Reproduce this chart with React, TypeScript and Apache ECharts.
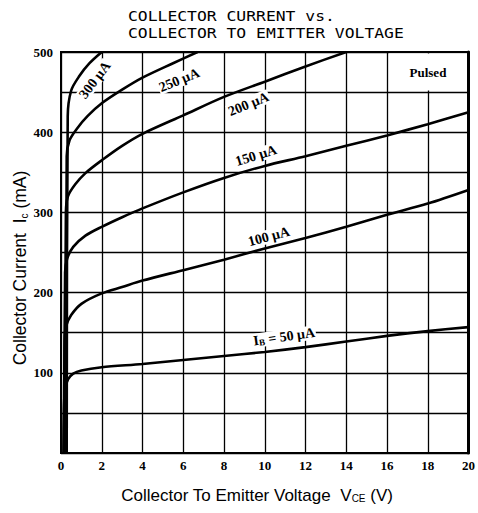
import { useEffect, useRef } from "react";
import * as echarts from "echarts";

// Collector current (mA) vs collector-emitter voltage (V), one list per base current
const ib50: [number, number][] = [
  [0.12, 0], [0.15, 60], [0.2, 80], [0.35, 92], [0.6, 99], [1, 103], [2, 107], [4, 111],
  [6, 116], [8, 121], [10, 126], [12, 132], [14, 139], [16, 146], [18, 152], [20, 157],
];
const ib100: [number, number][] = [
  [0.14, 0], [0.18, 140], [0.25, 158], [0.5, 172], [1, 186], [2, 199], [3, 207], [4, 215],
  [6, 228], [8, 241], [10, 255], [12, 268], [14, 282], [16, 297], [18, 311], [20, 328],
];
const ib150: [number, number][] = [
  [0.16, 0], [0.2, 225], [0.3, 242], [0.6, 257], [1.2, 271], [2, 282], [3, 294], [4, 305],
  [6, 325], [8, 343], [10, 358], [12, 370], [14, 383], [16, 396], [18, 410], [20, 425],
];
const ib200: [number, number][] = [
  [0.2, 0], [0.24, 300], [0.34, 320], [0.7, 335], [1.2, 349], [2, 365], [3, 383], [4, 398],
  [6, 421], [8, 444], [10, 463], [12, 482], [14, 500],
];
const ib250: [number, number][] = [
  [0.24, 0], [0.28, 370], [0.42, 390], [0.8, 405], [1.3, 420], [2, 436], [3, 453], [4, 468],
  [5.5, 486], [6.7, 500],
];
const ib300: [number, number][] = [
  [0.28, 0], [0.33, 420], [0.5, 452], [0.9, 470], [1.4, 486], [2, 500],
];

const curveLabels = ["I{sub|B} = 50 μA", "100 μA", "150 μA", "200 μA", "250 μA", "300 μA"];
const curveData = [ib50, ib100, ib150, ib200, ib250, ib300];

// label anchor (data space) and rotation for each curve label
const labelSpots: { at: [number, number]; rot: number }[] = [
  { at: [10.95, 145], rot: 8 },
  { at: [10.2, 270], rot: 15 },
  { at: [9.57, 371], rot: 17 },
  { at: [9.2, 435], rot: 22 },
  { at: [5.8, 465], rot: 22 },
  { at: [1.66, 465], rot: 53 },
];

const xMin = 0, xMax = 20, xStep = 2;
const yMin = 0, yMax = 500, yStep = 50;

const SERIF = '"Liberation Serif", "DejaVu Serif", serif';
const SANS = '"Liberation Sans", Arial, sans-serif';
const MONO = '"DejaVu Sans Mono", monospace';

export default function App() {
  const ref = useRef<HTMLDivElement>(null);
  useEffect(() => {
    if (!ref.current) return;
    const chart = echarts.init(ref.current, undefined, { renderer: "svg" });
    const series: any[] = curveData.map((d, i) => ({
      type: "line",
      data: d,
      symbol: "none",
      showSymbol: false,
      smooth: 0.3,
      clip: true,
      silent: true,
      lineStyle: { color: "#000", width: 2.6 },
      z: 3,
      markPoint: {
        silent: true,
        symbol: "circle",
        symbolSize: 0,
        data: [
          {
            coord: labelSpots[i].at,
            label: {
              show: true,
              position: "inside",
              formatter: curveLabels[i],
              rotate: labelSpots[i].rot,
              fontFamily: SERIF,
              fontWeight: "bold",
              fontSize: 14,
              color: "#000",
              backgroundColor: "#fff",
              padding: [0, 1],
              rich: {
                sub: {
                  fontFamily: SERIF,
                  fontWeight: "bold",
                  fontSize: 9,
                  color: "#000",
                  verticalAlign: "bottom",
                },
              },
            },
          },
        ],
      },
    }));
    series[0].markArea = {
      silent: true,
      itemStyle: { color: "#fff" },
      label: {
        show: true,
        position: "inside",
        formatter: "Pulsed",
        fontFamily: SERIF,
        fontWeight: "bold",
        fontSize: 13,
        color: "#000",
      },
      data: [[{ coord: [16.1, 452] }, { coord: [19.92, 498] }]],
    };

    chart.setOption({
      animation: false,
      backgroundColor: "#fff",
      grid: {
        left: 61,
        right: 8,
        top: 52,
        bottom: 60,
        show: true,
        borderColor: "#000",
        borderWidth: 2,
        backgroundColor: "#fff",
      },
      xAxis: {
        type: "value",
        min: xMin,
        max: xMax,
        interval: xStep,
        axisLine: { show: true, lineStyle: { color: "#000", width: 2 } },
        axisTick: { show: false },
        splitLine: { show: true, lineStyle: { color: "#000", width: 1.3 } },
        axisLabel: {
          fontFamily: SERIF,
          fontWeight: "bold",
          fontSize: 13,
          color: "#000",
          margin: 6,
        },
      },
      yAxis: [
        {
          type: "value",
          min: yMin,
          max: yMax,
          interval: yStep,
          axisLine: { show: true, lineStyle: { color: "#000", width: 2 } },
          axisTick: { show: false },
          splitLine: { show: true, lineStyle: { color: "#000", width: 1.3 } },
          axisLabel: {
            fontFamily: SERIF,
            fontWeight: "bold",
            fontSize: 13,
            color: "#000",
            margin: 8,
            formatter: (v: number) => (v % 100 === 0 && v > 0 ? String(v) : ""),
          },
        },
        {
          type: "value",
          position: "right",
          min: yMin,
          max: yMax,
          interval: yStep,
          axisLine: { show: true, lineStyle: { color: "#000", width: 3 } },
          axisTick: { show: false },
          axisLabel: { show: false },
          splitLine: { show: false },
        },
      ],
      graphic: [
        {
          type: "text",
          x: 128,
          y: 16,
          scaleX: 1.17,
          silent: true,
          style: {
            text: "COLLECTOR CURRENT vs.",
            fontFamily: MONO,
            fontSize: 14,
            fill: "#000",
            align: "left",
            verticalAlign: "middle",
          },
        },
        {
          type: "text",
          x: 128,
          y: 33,
          scaleX: 1.17,
          silent: true,
          style: {
            text: "COLLECTOR TO EMITTER VOLTAGE",
            fontFamily: MONO,
            fontSize: 14,
            fill: "#000",
            align: "left",
            verticalAlign: "middle",
          },
        },
        {
          type: "text",
          x: 20,
          y: 268,
          rotation: Math.PI / 2,
          silent: true,
          style: {
            text: "Collector Current  I{s|c} (mA)",
            fontFamily: SANS,
            fontSize: 17.5,
            fill: "#000",
            align: "center",
            verticalAlign: "middle",
            rich: {
              s: { fontFamily: SANS, fontSize: 10, fill: "#000", verticalAlign: "bottom" },
            },
          },
        },
        {
          type: "text",
          x: 257,
          y: 495,
          silent: true,
          style: {
            text: "Collector To Emitter Voltage  V{s|CE} (V)",
            fontFamily: SANS,
            fontSize: 17,
            fill: "#000",
            align: "center",
            verticalAlign: "middle",
            rich: {
              s: { fontFamily: SANS, fontSize: 10, fill: "#000", verticalAlign: "bottom" },
            },
          },
        },
      ],
      series,
    });
    return () => chart.dispose();
  }, []);
  return (
    <div
      ref={ref}
      style={{ position: "fixed", left: 0, top: 0, width: 478, height: 513 }}
    />
  );
}
